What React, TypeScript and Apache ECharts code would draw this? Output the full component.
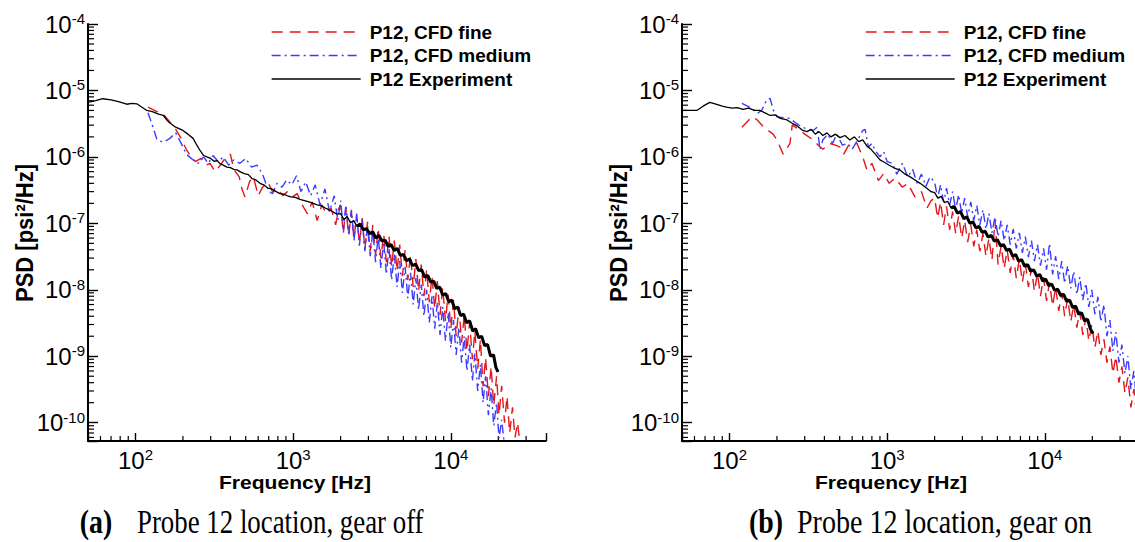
import React, { useEffect, useRef } from 'react';
import * as echarts from 'echarts';

const FREQ_MIN = 50;
const FREQ_MAX = 40000;
const PSD_MIN = 5.3e-11;
const PSD_MAX = 1e-4;

const seriesNames = ['P12, CFD fine', 'P12, CFD medium', 'P12 Experiment'];
const xTitle = 'Frequency [Hz]';
const yTitle = 'PSD [psi\u00b2/Hz]';
const captionTags = ['(a)', '(b)'];
const captionTexts = ['Probe 12 location, gear off', 'Probe 12 location, gear on'];

// ---- panel (a): gear off ----
const expOff: [number, number][] = [
  [50, 6.6e-6], [56, 7.0e-6], [62, 7.5e-6], [70, 7.2e-6], [78, 6.8e-6], [88, 6.2e-6], [95, 6.4e-6],
  [102, 6.3e-6], [110, 5.6e-6], [118, 5.0e-6], [128, 4.8e-6], [140, 4.4e-6], [150, 4.2e-6],
  [158, 3.6e-6], [166, 3.2e-6], [180, 2.8e-6], [200, 2.5e-6], [215, 2.2e-6], [232, 1.9e-6],
  [245, 1.5e-6], [256, 1.26e-6], [270, 1.05e-6], [284, 1.0e-6], [297, 9.6e-7], [315, 8.6e-7],
  [330, 8.8e-7], [343, 7.9e-7], [360, 7.5e-7], [380, 7.0e-7], [400, 6.9e-7], [420, 6.5e-7],
  [440, 6.4e-7], [460, 6.0e-7], [490, 5.6e-7], [520, 5.4e-7], [550, 4.7e-7], [580, 4.5e-7],
  [616, 4.0e-7], [650, 3.8e-7], [690, 3.4e-7], [730, 3.3e-7], [780, 3.0e-7], [825, 2.8e-7],
  [870, 2.75e-7], [920, 2.6e-7], [970, 2.5e-7], [1030, 2.45e-7], [1105, 2.3e-7], [1180, 2.2e-7],
  [1260, 2.1e-7], [1340, 2.0e-7], [1420, 1.9e-7], [1500, 1.85e-7], [1600, 1.7e-7], [1700, 1.6e-7],
  [1820, 1.45e-7], [1900, 1.38e-7], [2000, 1.4e-7], [2100, 1.14e-7], [2200, 1.27e-7], [2310, 1.02e-7],
  [2420, 1.1e-7], [2540, 9.0e-8], [2660, 9.8e-8], [2790, 8.0e-8], [2920, 8.3e-8], [3060, 7.0e-8],
  [3200, 7.4e-8], [3350, 6.0e-8], [3500, 6.6e-8], [3660, 5.4e-8], [3830, 5.6e-8], [4000, 4.5e-8],
  [4180, 4.8e-8], [4370, 3.9e-8], [4570, 4.2e-8], [4780, 3.3e-8], [5000, 3.4e-8], [5230, 2.75e-8],
  [5470, 2.9e-8], [5720, 2.3e-8], [5980, 2.45e-8], [6250, 1.95e-8], [6530, 2.0e-8], [6820, 1.55e-8],
  [7130, 1.65e-8], [7450, 1.3e-8], [7780, 1.35e-8], [8130, 1.05e-8], [8500, 1.1e-8], [8880, 8.3e-9],
  [9280, 8.8e-9], [9700, 6.6e-9], [10130, 7.0e-9], [10580, 5.2e-9], [11050, 5.5e-9], [11540, 4.1e-9],
  [12060, 4.3e-9], [12600, 3.2e-9], [13160, 3.4e-9], [13750, 2.4e-9], [14360, 2.6e-9], [15000, 1.9e-9],
  [15670, 2.0e-9], [16370, 1.45e-9], [17100, 1.5e-9], [17860, 1.0e-9], [18650, 1.05e-9],
  [19300, 6.8e-10], [19900, 5.8e-10],
];

const fineOff: [number, number][] = [
  [120, 5.6e-6], [135, 4.9e-6], [150, 4.4e-6], [166, 3.3e-6], [180, 2.6e-6], [195, 1.9e-6],
  [210, 1.3e-6], [225, 1.0e-6], [240, 8.5e-7], [260, 9.5e-7], [280, 7.5e-7], [297, 8.0e-7],
  [320, 6.0e-7], [345, 7.5e-7], [370, 9.5e-7], [400, 1.1e-6], [420, 6.5e-7], [455, 5.0e-7],
  [475, 3.2e-7], [495, 2.5e-7], [530, 4.3e-7], [560, 5.0e-7], [600, 2.6e-7], [640, 3.5e-7],
  [690, 4.2e-7], [740, 3.0e-7], [800, 3.3e-7], [860, 2.6e-7], [920, 3.0e-7], [990, 2.5e-7],
  [1060, 2.8e-7], [1140, 1.9e-7], [1230, 1.4e-7], [1320, 2.1e-7], [1420, 1.1e-7], [1520, 1.9e-7],
  [1620, 1.4e-7], [1740, 1.7e-7], [1860, 9.5e-8], [1930, 1.6e-7],
  [2000, 1.9e-7], [2080, 7.0e-8], [2160, 1.7e-7], [2250, 6.5e-8], [2340, 1.5e-7], [2430, 5.8e-8],
  [2530, 1.35e-7], [2630, 5.0e-8], [2740, 1.2e-7], [2850, 4.0e-8], [2960, 1.05e-7], [3080, 3.8e-8],
  [3200, 9.5e-8], [3330, 3.3e-8], [3460, 8.5e-8], [3600, 3.0e-8], [3750, 7.0e-8], [3900, 2.6e-8],
  [4050, 6.5e-8], [4210, 2.2e-8], [4380, 5.5e-8], [4560, 1.9e-8], [4740, 4.8e-8], [4930, 1.6e-8],
  [5130, 4.0e-8], [5330, 1.4e-8], [5550, 3.4e-8], [5770, 1.1e-8], [6000, 2.9e-8], [6240, 9.5e-9],
  [6490, 2.4e-8], [6750, 8.0e-9], [7020, 2.0e-8], [7300, 6.5e-9], [7590, 1.6e-8], [7900, 5.2e-9],
  [8210, 1.35e-8], [8540, 4.2e-9], [8880, 1.1e-8], [9240, 3.4e-9], [9610, 8.5e-9], [9990, 2.6e-9],
  [10400, 7.0e-9], [10800, 2.0e-9], [11250, 5.5e-9], [11700, 1.6e-9], [12150, 4.2e-9], [12650, 1.2e-9],
  [13150, 3.2e-9], [13700, 9.0e-10], [14200, 2.4e-9], [14800, 6.5e-10], [15400, 1.8e-9],
  [16000, 3.5e-10], [16600, 9.5e-10], [17300, 2.5e-10], [18000, 7.0e-10], [18700, 1.8e-10],
  [19500, 5.0e-10], [20200, 1.3e-10], [21000, 3.6e-10], [21900, 1.0e-10], [22700, 2.5e-10],
  [23600, 7.0e-11], [24600, 1.7e-10], [25500, 6.0e-11], [26500, 1.0e-10], [27500, 4.5e-11],
];

const mediumOff: [number, number][] = [
  [120, 4.6e-6], [128, 3.0e-6], [137, 1.8e-6], [150, 1.65e-6], [165, 1.9e-6], [180, 2.3e-6],
  [195, 1.6e-6], [210, 1.1e-6], [232, 9.0e-7], [250, 8.0e-7], [270, 1.0e-6], [290, 8.0e-7],
  [310, 1.05e-6], [335, 8.5e-7], [360, 1.0e-6], [390, 7.5e-7], [420, 9.0e-7], [460, 8.0e-7],
  [500, 9.5e-7], [545, 7.0e-7], [590, 7.5e-7], [640, 5.5e-7], [700, 3.0e-7], [740, 2.8e-7],
  [790, 4.0e-7], [850, 3.5e-7], [910, 4.5e-7], [980, 3.8e-7], [1050, 5.2e-7], [1120, 3.0e-7],
  [1200, 4.2e-7], [1290, 2.6e-7], [1380, 3.8e-7], [1480, 1.9e-7], [1590, 3.3e-7], [1700, 1.5e-7],
  [1820, 2.6e-7], [1920, 1.1e-7],
  [2000, 2.2e-7], [2080, 8.0e-8], [2160, 1.9e-7], [2250, 7.0e-8], [2340, 1.6e-7], [2430, 5.5e-8],
  [2530, 1.4e-7], [2630, 4.6e-8], [2740, 1.15e-7], [2850, 3.8e-8], [2960, 9.5e-8], [3080, 3.2e-8],
  [3200, 8.0e-8], [3330, 2.6e-8], [3460, 6.5e-8], [3600, 2.1e-8], [3750, 5.2e-8], [3900, 1.7e-8],
  [4050, 4.2e-8], [4210, 1.4e-8], [4380, 3.4e-8], [4560, 1.1e-8], [4740, 2.7e-8], [4930, 9.0e-9],
  [5130, 2.2e-8], [5330, 7.5e-9], [5550, 1.8e-8], [5770, 6.0e-9], [6000, 1.5e-8], [6240, 5.0e-9],
  [6490, 1.2e-8], [6750, 4.0e-9], [7020, 1.0e-8], [7300, 3.2e-9], [7590, 8.0e-9], [7900, 2.6e-9],
  [8210, 6.5e-9], [8540, 2.1e-9], [8880, 5.5e-9], [9240, 1.7e-9], [9610, 4.5e-9], [9990, 1.35e-9],
  [10400, 3.5e-9], [10800, 1.05e-9], [11250, 2.7e-9], [11700, 8.0e-10], [12150, 2.0e-9],
  [12650, 6.0e-10], [13150, 1.5e-9], [13700, 4.2e-10], [14200, 1.1e-9], [14800, 3.0e-10],
  [15400, 7.5e-10], [16000, 2.0e-10], [16600, 5.0e-10], [17300, 1.3e-10], [18000, 3.3e-10],
  [18700, 9.0e-11], [19500, 2.0e-10], [20200, 5.8e-11], [21000, 1.1e-10], [21900, 4.5e-11],
];

// ---- panel (b): gear on ----
const expOn: [number, number][] = [
  [50, 5.0e-6], [56, 5.0e-6], [62, 5.0e-6], [68, 5.8e-6], [75, 6.6e-6], [82, 6.2e-6], [90, 5.8e-6],
  [96, 5.6e-6], [104, 5.4e-6], [112, 5.5e-6], [122, 5.2e-6], [132, 5.4e-6], [144, 5.0e-6],
  [156, 5.0e-6], [168, 4.6e-6], [181, 4.2e-6], [195, 4.3e-6], [210, 3.8e-6], [232, 3.6e-6],
  [250, 3.2e-6], [270, 2.9e-6], [292, 2.5e-6], [310, 2.4e-6], [330, 2.6e-6], [350, 2.2e-6],
  [370, 2.4e-6], [391, 2.1e-6], [415, 2.3e-6], [440, 2.0e-6], [470, 2.2e-6], [502, 1.95e-6],
  [540, 2.1e-6], [580, 1.8e-6], [620, 2.0e-6], [660, 1.7e-6], [700, 1.8e-6], [745, 1.45e-6],
  [790, 1.3e-6], [840, 1.1e-6], [900, 9.0e-7], [960, 8.3e-7], [1030, 7.5e-7], [1110, 6.8e-7],
  [1210, 6.3e-7], [1300, 5.5e-7], [1400, 5.0e-7], [1500, 4.5e-7], [1620, 4.0e-7], [1750, 3.5e-7],
  [1900, 3.0e-7], [2000, 2.9e-7], [2100, 2.4e-7], [2200, 2.55e-7], [2310, 2.05e-7], [2420, 2.15e-7],
  [2540, 1.7e-7], [2660, 1.8e-7], [2790, 1.42e-7], [2920, 1.5e-7], [3060, 1.18e-7], [3200, 1.25e-7],
  [3350, 1.0e-7], [3500, 1.05e-7], [3660, 8.5e-8], [3830, 9.0e-8], [4000, 7.3e-8], [4180, 7.6e-8],
  [4370, 6.2e-8], [4570, 6.6e-8], [4780, 5.4e-8], [5000, 5.7e-8], [5230, 4.6e-8], [5470, 4.8e-8],
  [5720, 3.9e-8], [5980, 4.1e-8], [6250, 3.2e-8], [6530, 3.4e-8], [6820, 2.7e-8], [7130, 2.85e-8],
  [7450, 2.25e-8], [7780, 2.4e-8], [8130, 1.9e-8], [8500, 2.0e-8], [8880, 1.6e-8], [9280, 1.7e-8],
  [9700, 1.35e-8], [10130, 1.45e-8], [10580, 1.15e-8], [11050, 1.22e-8], [11540, 9.8e-9],
  [12060, 1.02e-8], [12600, 8.2e-9], [13160, 8.5e-9], [13750, 6.7e-9], [14360, 7.0e-9],
  [15000, 5.4e-9], [15670, 5.7e-9], [16370, 4.3e-9], [17100, 4.5e-9], [17860, 3.4e-9],
  [18650, 3.6e-9], [19400, 2.6e-9], [20200, 2.2e-9],
];

const fineOn: [number, number][] = [
  [120, 2.8e-6], [130, 3.4e-6], [139, 4.0e-6], [150, 3.6e-6], [165, 2.8e-6], [189, 2.2e-6],
  [200, 1.8e-6], [219, 1.1e-6], [242, 1.6e-6], [250, 3.0e-6], [275, 2.6e-6], [300, 2.2e-6],
  [340, 1.8e-6], [365, 1.5e-6], [391, 1.3e-6], [430, 1.6e-6], [470, 1.5e-6], [502, 1.4e-6],
  [530, 1.1e-6], [570, 1.5e-6], [643, 1.6e-6], [700, 1.0e-6], [745, 6.3e-7], [800, 8.0e-7],
  [880, 4.4e-7], [950, 5.6e-7], [1030, 4.0e-7], [1120, 4.8e-7], [1250, 3.5e-7], [1350, 4.0e-7],
  [1500, 2.5e-7], [1650, 3.0e-7], [1790, 1.7e-7], [1900, 2.2e-7],
  [2000, 2.4e-7], [2090, 1.2e-7], [2180, 2.1e-7], [2280, 9.5e-8], [2380, 1.8e-7], [2490, 8.0e-8],
  [2600, 1.5e-7], [2720, 7.0e-8], [2840, 1.3e-7], [2970, 6.0e-8], [3100, 1.1e-7], [3240, 5.2e-8],
  [3390, 9.5e-8], [3540, 4.5e-8], [3700, 8.0e-8], [3870, 3.8e-8], [4050, 7.0e-8], [4230, 3.2e-8],
  [4420, 6.0e-8], [4620, 2.8e-8], [4830, 1.1e-7], [5050, 2.4e-8], [5280, 4.6e-8], [5520, 2.1e-8],
  [5770, 4.0e-8], [6030, 1.8e-8], [6300, 3.4e-8], [6590, 1.5e-8], [6890, 2.9e-8], [7200, 1.3e-8],
  [7520, 2.5e-8], [7860, 1.1e-8], [8220, 2.1e-8], [8590, 9.5e-9], [8980, 1.8e-8], [9380, 8.0e-9],
  [9810, 1.55e-8], [10250, 6.8e-9], [10700, 1.3e-8], [11200, 5.7e-9], [11700, 1.1e-8], [12250, 4.8e-9],
  [12800, 9.0e-9], [13350, 4.0e-9], [13950, 7.5e-9], [14600, 3.3e-9], [15250, 6.0e-9], [15950, 2.7e-9],
  [16650, 4.8e-9], [17400, 2.1e-9], [18200, 3.8e-9], [19000, 1.7e-9], [19850, 3.0e-9],
  [20750, 1.35e-9], [21700, 2.4e-9], [22650, 1.05e-9], [23700, 1.8e-9], [24750, 8.0e-10],
  [25850, 1.4e-9], [27000, 5.5e-10], [28200, 1.0e-9], [29500, 4.0e-10], [30800, 7.0e-10],
  [32200, 2.8e-10], [33600, 4.8e-10], [35100, 1.7e-10], [36700, 3.2e-10], [38300, 1.2e-10],
];

const mediumOn: [number, number][] = [
  [120, 6.4e-6], [130, 5.8e-6], [139, 5.4e-6], [150, 4.5e-6], [160, 5.0e-6], [172, 7.2e-6],
  [181, 7.6e-6], [190, 5.0e-6], [200, 4.0e-6], [220, 3.9e-6], [242, 3.8e-6], [265, 3.2e-6],
  [290, 2.8e-6], [315, 2.6e-6], [340, 2.5e-6], [360, 2.8e-6], [375, 1.3e-6], [391, 1.8e-6],
  [420, 2.2e-6], [450, 1.6e-6], [480, 2.2e-6], [520, 1.5e-6], [560, 1.6e-6], [600, 1.3e-6],
  [650, 1.8e-6], [700, 2.5e-6], [725, 2.6e-6], [760, 1.4e-6], [800, 1.6e-6], [850, 1.2e-6],
  [900, 1.0e-6], [950, 1.2e-6], [1000, 8.5e-7], [1080, 8.0e-7], [1150, 5.5e-7], [1250, 8.0e-7],
  [1350, 5.0e-7], [1450, 6.5e-7], [1550, 4.0e-7], [1650, 5.5e-7], [1760, 3.6e-7], [1870, 5.0e-7],
  [2000, 4.2e-7], [2090, 2.4e-7], [2180, 3.8e-7], [2280, 2.1e-7], [2380, 3.4e-7], [2490, 1.9e-7],
  [2600, 3.0e-7], [2720, 1.6e-7], [2840, 2.7e-7], [2970, 1.4e-7], [3100, 2.4e-7], [3240, 1.25e-7],
  [3390, 2.1e-7], [3540, 1.1e-7], [3700, 1.85e-7], [3870, 9.5e-8], [4050, 1.6e-7], [4230, 8.2e-8],
  [4420, 1.4e-7], [4620, 7.2e-8], [4830, 1.25e-7], [5050, 6.3e-8], [5280, 1.1e-7], [5520, 5.5e-8],
  [5770, 9.5e-8], [6030, 4.8e-8], [6300, 8.2e-8], [6590, 4.2e-8], [6890, 7.2e-8], [7200, 3.6e-8],
  [7520, 6.3e-8], [7860, 3.1e-8], [8220, 5.5e-8], [8590, 2.7e-8], [8980, 4.8e-8], [9380, 2.3e-8],
  [9810, 4.2e-8], [10250, 2.0e-8], [10700, 5.0e-8], [11200, 1.7e-8], [11700, 3.2e-8], [12250, 1.45e-8],
  [12800, 2.7e-8], [13350, 1.25e-8], [13950, 2.3e-8], [14600, 1.05e-8], [15250, 1.9e-8],
  [15950, 8.5e-9], [16650, 1.55e-8], [17400, 7.0e-9], [18200, 1.25e-8], [19000, 5.5e-9],
  [19850, 1.0e-8], [20750, 4.3e-9], [21700, 7.8e-9], [22650, 3.3e-9], [23700, 6.0e-9],
  [24750, 2.0e-9], [25850, 3.5e-9], [27000, 1.2e-9], [28200, 2.3e-9], [29500, 8.0e-10],
  [30800, 1.5e-9], [32200, 5.5e-10], [33600, 1.0e-9], [35100, 3.2e-10], [36700, 6.0e-10],
  [38300, 1.8e-10],
];

const panels = [
  { fine: fineOff, medium: mediumOff, exp: expOff },
  { fine: fineOn, medium: mediumOn, exp: expOn },
];

// the measured spectrum looks heavier above this frequency (dense FFT bins)
const DENSE_FROM_HZ = 2500;

const SANS = '"Liberation Sans", Arial, Helvetica, sans-serif';
const SERIF = '"Liberation Serif", "Times New Roman", serif';
const RED = '#e3161b';
const BLUE = '#3b3bff';

function decadeLabel(v: number): string {
  const e = Math.log10(v);
  const r = Math.round(e);
  if (Math.abs(e - r) > 1e-6) return '';
  return `{b|10}{s|${r}}`;
}

const labelRich = {
  b: { fontSize: 24, fontFamily: SANS, color: '#000', lineHeight: 26 },
  s: { fontSize: 15, fontFamily: SANS, color: '#000', verticalAlign: 'top', lineHeight: 15 },
};

function minorValues(lo: number, hi: number, e0: number, e1: number): number[] {
  const out: number[] = [];
  for (let e = e0; e <= e1; e++) {
    for (let m = 2; m <= 9; m++) {
      const v = m * Math.pow(10, e);
      if (v > lo * 1.0001 && v < hi * 0.9999) out.push(v);
    }
  }
  return out;
}

export default function App() {
  const ref = useRef<HTMLDivElement>(null);

  useEffect(() => {
    if (!ref.current) return;
    const chart = echarts.init(ref.current, undefined, { renderer: 'svg' });

    const gridLefts = [88, 682];
    const gridW = 457.8;
    const minorX = minorValues(FREQ_MIN, FREQ_MAX, 1, 4);
    const minorY = minorValues(PSD_MIN, PSD_MAX, -11, -5);

    const grids = gridLefts.map((l) => ({ left: l, top: 24, width: gridW, height: 417, containLabel: false }));

    const xAxes = [0, 1].map((i) => ({
      type: 'log', logBase: 10, gridIndex: i, min: FREQ_MIN, max: FREQ_MAX,
      splitLine: { show: false },
      axisLine: { show: true, lineStyle: { color: '#000', width: 2 } },
      axisTick: { show: true, inside: true, length: 8, lineStyle: { color: '#000', width: 1.4 } },
      axisLabel: { formatter: decadeLabel, rich: labelRich, margin: 6, color: '#000' },
    }));

    const yAxes = [0, 1].map((i) => ({
      type: 'log', logBase: 10, gridIndex: i, min: PSD_MIN, max: PSD_MAX,
      splitLine: { show: false },
      axisLine: { show: true, lineStyle: { color: '#000', width: 2 } },
      axisTick: { show: true, inside: true, length: 10, lineStyle: { color: '#000', width: 1.4 } },
      axisLabel: { formatter: decadeLabel, rich: labelRich, margin: 3, color: '#000' },
    }));

    const series: any[] = [];
    panels.forEach((p, i) => {
      series.push({
        type: 'custom', xAxisIndex: i, yAxisIndex: i, silent: true, clip: false, z: 1,
        data: minorX.map((v) => [v, PSD_MIN, 0]).concat(minorY.map((v) => [FREQ_MIN, v, 1])),
        encode: { x: 0, y: 1 },
        renderItem: (_params: any, api: any) => {
          const pt = api.coord([api.value(0), api.value(1)]);
          const horiz = api.value(2) === 1;
          return {
            type: 'line',
            shape: horiz
              ? { x1: pt[0], y1: pt[1], x2: pt[0] + 6, y2: pt[1] }
              : { x1: pt[0], y1: pt[1], x2: pt[0], y2: pt[1] - 5 },
            style: { stroke: '#000', lineWidth: 1.2 },
          };
        },
      });
      series.push({
        name: seriesNames[0], type: 'line', xAxisIndex: i, yAxisIndex: i, data: p.fine,
        symbol: 'none', showSymbol: false, z: 2,
        lineStyle: { color: RED, width: 1.4, type: [11, 7] }, itemStyle: { color: RED },
      });
      series.push({
        name: seriesNames[1], type: 'line', xAxisIndex: i, yAxisIndex: i, data: p.medium,
        symbol: 'none', showSymbol: false, z: 3,
        lineStyle: { color: BLUE, width: 1.4, type: [9, 4, 2, 4] }, itemStyle: { color: BLUE },
      });
      series.push({
        name: seriesNames[2], type: 'line', xAxisIndex: i, yAxisIndex: i, data: p.exp,
        symbol: 'none', showSymbol: false, z: 4,
        lineStyle: { color: '#000', width: 1.3, type: 'solid' }, itemStyle: { color: '#000' },
      });
      series.push({
        name: seriesNames[2], type: 'line', xAxisIndex: i, yAxisIndex: i,
        data: p.exp.filter((d) => d[0] >= DENSE_FROM_HZ),
        symbol: 'none', showSymbol: false, z: 5,
        lineStyle: { color: '#000', width: 3, type: 'solid' }, itemStyle: { color: '#000' },
      });
    });

    const legends = [266, 860].map((l) => ({
      data: seriesNames, orient: 'vertical', left: l, top: 17,
      itemWidth: 89, itemHeight: 14, itemGap: 3.5, selectedMode: false,
      itemStyle: { opacity: 0 },
      lineStyle: { width: 1.3 },
      textStyle: { fontFamily: SANS, fontWeight: 'bold', fontSize: 19, color: '#000', lineHeight: 20, padding: [0, 0, 0, 4] },
    }));

    const graphic: any[] = [];
    const yTitleX = [25, 619];
    const xTitleX = [295, 891];
    const tagX = [96, 766];
    const capX = [137, 797];
    const capScale = [0.79, 0.825];
    for (let i = 0; i < 2; i++) {
      graphic.push({
        type: 'text', x: yTitleX[i], y: 233, rotation: Math.PI / 2, scaleY: 1.08,
        style: { text: yTitle, font: `bold 22px ${SANS}`, fill: '#000', align: 'center', verticalAlign: 'middle' },
      });
      graphic.push({
        type: 'text', x: xTitleX[i], y: 483, scaleX: 1.17,
        style: { text: xTitle, font: `bold 18px ${SANS}`, fill: '#000', align: 'center', verticalAlign: 'middle' },
      });
      graphic.push({
        type: 'text', x: tagX[i], y: 522, scaleX: 0.82,
        style: { text: captionTags[i], font: `bold 34px ${SERIF}`, fill: '#000', align: 'center', verticalAlign: 'middle' },
      });
      graphic.push({
        type: 'text', x: capX[i], y: 522, scaleX: capScale[i],
        style: { text: captionTexts[i], font: `34px ${SERIF}`, fill: '#000', align: 'left', verticalAlign: 'middle' },
      });
    }

    chart.setOption({
      animation: false,
      backgroundColor: '#fff',
      grid: grids,
      xAxis: xAxes,
      yAxis: yAxes,
      legend: legends,
      series,
      graphic,
    } as any);

    return () => chart.dispose();
  }, []);

  return (
    <div style={{ position: 'fixed', left: 0, top: 0, width: 1135, height: 542, overflow: 'hidden', background: '#fff' }}>
      <div ref={ref} style={{ width: 1150, height: 542 }} />
    </div>
  );
}
